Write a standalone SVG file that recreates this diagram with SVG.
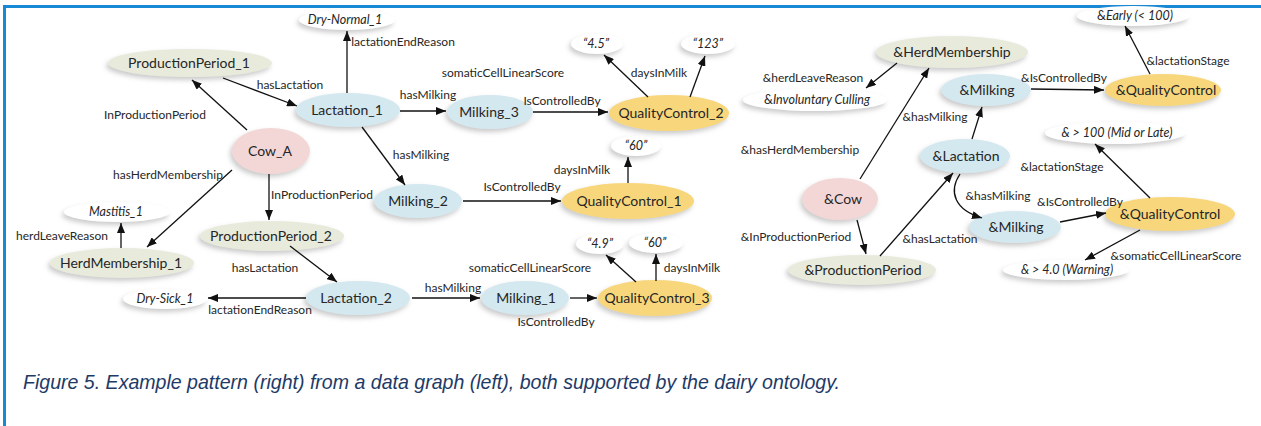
<svg xmlns="http://www.w3.org/2000/svg" width="1261" height="426" viewBox="0 0 1261 426">
<defs>
<style>
.t{font-family:Lato,"Liberation Sans",sans-serif;font-size:14px;fill:#262626;text-anchor:middle}
.v{font-family:Lato,"Liberation Sans",sans-serif;font-size:12.5px;font-style:italic;fill:#262626;text-anchor:middle}
.up{font-style:normal}
.l{font-family:Lato,"Liberation Sans",sans-serif;font-size:12px;fill:#262626;text-anchor:middle}
.cow{fill:#f3d7d7;filter:url(#sh)}
.per{fill:#e8ebdc;filter:url(#sh)}
.lac{fill:#d4e8f0;filter:url(#sh)}
.qc{fill:#f8d77c;filter:url(#sh)}
.val{fill:#fff;filter:url(#sh)}
#edges line,#edges path{stroke:#111;stroke-width:1.3;fill:none;marker-end:url(#ah)}
.frame{stroke:#1789d5;stroke-width:3}
.cap{font-family:"Liberation Sans",Arial,sans-serif;font-size:21px;font-style:italic;fill:#1e3a66}
</style>
<filter id="sh" x="-30%" y="-50%" width="160%" height="200%">
<feGaussianBlur in="SourceAlpha" stdDeviation="2.5" result="b"/>
<feOffset in="b" dx="-2" dy="3" result="o"/>
<feFlood flood-color="#8a8a8a" flood-opacity="0.45"/>
<feComposite in2="o" operator="in" result="s"/>
<feGaussianBlur in="SourceGraphic" stdDeviation="0.7" result="g"/>
<feMerge><feMergeNode in="s"/><feMergeNode in="g"/></feMerge>
</filter>
<marker id="ah" viewBox="0 0 10 8" refX="10" refY="4" markerWidth="10" markerHeight="8" markerUnits="userSpaceOnUse" orient="auto"><path d="M0,0 L10,4 L0,8 z" fill="#111"/></marker>
</defs>
<rect width="1261" height="426" fill="#fff"/>
<line class="frame" x1="3" y1="6.5" x2="1261" y2="6.5"/>
<line class="frame" x1="4.5" y1="5" x2="4.5" y2="426"/>

<!-- data graph -->
<g id="n_pp1"><ellipse class="per" cx="190" cy="63" rx="82" ry="14"/><text class="t" x="189" y="68">ProductionPeriod_1</text></g>
<g id="n_drynormal"><ellipse class="val" cx="347" cy="20" rx="48" ry="10"/><text class="v" x="345" y="24">Dry-Normal_1</text></g>
<g id="n_lac1"><ellipse class="lac" cx="348" cy="110" rx="52" ry="17"/><text class="t" x="347" y="115">Lactation_1</text></g>
<g id="n_milk3"><ellipse class="lac" cx="490" cy="112" rx="43" ry="17"/><text class="t" x="489" y="117">Milking_3</text></g>
<g id="n_qc2"><ellipse class="qc" cx="669" cy="113" rx="60" ry="18"/><text class="t" x="671" y="118">QualityControl_2</text></g>
<g id="n_v45"><ellipse class="val" cx="597" cy="44" rx="26" ry="10"/><text class="v" x="596" y="48">“4.5”</text></g>
<g id="n_v123"><ellipse class="val" cx="708" cy="44" rx="27" ry="10"/><text class="v" x="708" y="48">“123”</text></g>
<g id="n_cowa"><ellipse class="cow" cx="271" cy="151" rx="39" ry="23"/><text class="t" x="270" y="156">Cow_A</text></g>
<g id="n_milk2"><ellipse class="lac" cx="418" cy="201" rx="44" ry="17"/><text class="t" x="418" y="206">Milking_2</text></g>
<g id="n_qc1"><ellipse class="qc" cx="628" cy="201" rx="66" ry="18"/><text class="t" x="629" y="206">QualityControl_1</text></g>
<g id="n_v60a"><ellipse class="val" cx="636" cy="146" rx="25" ry="10"/><text class="v" x="636" y="150">“60”</text></g>
<g id="n_pp2"><ellipse class="per" cx="272" cy="236" rx="72" ry="15"/><text class="t" x="271" y="241">ProductionPeriod_2</text></g>
<g id="n_hm1"><ellipse class="per" cx="122" cy="263" rx="72" ry="15"/><text class="t" x="121" y="268">HerdMembership_1</text></g>
<g id="n_mastitis"><ellipse class="val" cx="117" cy="212" rx="53" ry="10"/><text class="v" x="116" y="216">Mastitis_1</text></g>
<g id="n_lac2"><ellipse class="lac" cx="358" cy="298" rx="52" ry="17"/><text class="t" x="356" y="303">Lactation_2</text></g>
<g id="n_drysick"><ellipse class="val" cx="165" cy="299" rx="42" ry="10"/><text class="v" x="165" y="303">Dry-Sick_1</text></g>
<g id="n_milk1"><ellipse class="lac" cx="525" cy="298" rx="44" ry="17"/><text class="t" x="526" y="303">Milking_1</text></g>
<g id="n_qc3"><ellipse class="qc" cx="655" cy="298" rx="57" ry="18"/><text class="t" x="657" y="303">QualityControl_3</text></g>
<g id="n_v49"><ellipse class="val" cx="600" cy="244" rx="24" ry="10"/><text class="v" x="600" y="248">“4.9”</text></g>
<g id="n_v60b"><ellipse class="val" cx="656" cy="243" rx="27" ry="10"/><text class="v" x="655" y="247">“60”</text></g>

<!-- pattern -->
<g id="p_hm"><ellipse class="per" cx="952" cy="52" rx="76" ry="16"/><text class="t" x="952" y="57">&amp;HerdMembership</text></g>
<g id="p_invol"><ellipse class="val" cx="815" cy="100" rx="72" ry="11"/><text class="v" x="817" y="104"><tspan class="up">&amp;</tspan>Involuntary Culling</text></g>
<g id="p_milka"><ellipse class="lac" cx="986" cy="90" rx="45" ry="16"/><text class="t" x="987" y="95">&amp;Milking</text></g>
<g id="p_qca"><ellipse class="qc" cx="1163" cy="90" rx="58" ry="16"/><text class="t" x="1166" y="95">&amp;QualityControl</text></g>
<g id="p_early"><ellipse class="val" cx="1133" cy="16" rx="56" ry="10"/><text class="v" x="1135" y="20"><tspan class="up">&amp;</tspan>Early (&lt; 100)</text></g>
<g id="p_lac"><ellipse class="lac" cx="965" cy="156" rx="45" ry="17"/><text class="t" x="966" y="161">&amp;Lactation</text></g>
<g id="p_mid"><ellipse class="val" cx="1115" cy="133" rx="70" ry="11"/><text class="v" x="1117" y="137">&amp; &gt; 100 (Mid or Late)</text></g>
<g id="p_cow"><ellipse class="cow" cx="840" cy="199" rx="38" ry="21"/><text class="t" x="843" y="204">&amp;Cow</text></g>
<g id="p_pp"><ellipse class="per" cx="862" cy="270" rx="74" ry="15"/><text class="t" x="863" y="275">&amp;ProductionPeriod</text></g>
<g id="p_milkb"><ellipse class="lac" cx="1015" cy="227" rx="46" ry="16"/><text class="t" x="1016" y="232">&amp;Milking</text></g>
<g id="p_qcb"><ellipse class="qc" cx="1170" cy="214" rx="65" ry="17"/><text class="t" x="1170" y="219">&amp;QualityControl</text></g>
<g id="p_warn"><ellipse class="val" cx="1066" cy="270" rx="63" ry="10"/><text class="v" x="1067" y="274">&amp; &gt; 4.0 (Warning)</text></g>

<g id="edges">
<line x1="247" y1="130" x2="192" y2="80"/>
<line x1="223" y1="78" x2="297" y2="106"/>
<line x1="347" y1="93" x2="347" y2="31"/>
<line x1="400" y1="111" x2="446" y2="111"/>
<line x1="533" y1="112" x2="608" y2="112"/>
<line x1="648" y1="97" x2="604" y2="55"/>
<line x1="690" y1="97" x2="705" y2="56"/>
<line x1="362" y1="127" x2="405" y2="185"/>
<line x1="463" y1="201" x2="561" y2="201"/>
<line x1="628" y1="183" x2="628" y2="157"/>
<line x1="232" y1="170" x2="147" y2="247"/>
<line x1="269" y1="174" x2="269" y2="220"/>
<line x1="121" y1="248" x2="121" y2="223"/>
<line x1="290" y1="246" x2="337" y2="282"/>
<line x1="306" y1="298" x2="208" y2="298"/>
<line x1="412" y1="298" x2="480" y2="298"/>
<line x1="570" y1="298" x2="597" y2="298"/>
<line x1="636" y1="282" x2="606" y2="255"/>
<line x1="656" y1="281" x2="656" y2="254"/>
<line x1="860" y1="179" x2="929" y2="68"/>
<line x1="897" y1="63" x2="866" y2="88"/>
<line x1="972" y1="139" x2="982" y2="107"/>
<line x1="1031" y1="89" x2="1104" y2="90"/>
<line x1="1150" y1="74" x2="1125" y2="26"/>
<line x1="857" y1="220" x2="866" y2="254"/>
<line x1="880" y1="256" x2="953" y2="173"/>
<path d="M960,174 C948,192 955,210 982,218"/>
<line x1="1060" y1="222" x2="1106" y2="213"/>
<line x1="1150" y1="198" x2="1095" y2="144"/>
<line x1="1140" y1="230" x2="1085" y2="260"/>

<text class="l" x="155" y="119">InProductionPeriod</text>
<text class="l" x="290" y="89">hasLactation</text>
<text class="l" x="403" y="46">lactationEndReason</text>
<text class="l" x="428" y="99">hasMilking</text>
<text class="l" x="562" y="105">IsControlledBy</text>
<text class="l" x="503" y="77">somaticCellLinearScore</text>
<text class="l" x="659" y="77">daysInMilk</text>
<text class="l" x="421" y="159">hasMilking</text>
<text class="l" x="522" y="191">IsControlledBy</text>
<text class="l" x="582" y="174">daysInMilk</text>
<text class="l" x="168" y="179">hasHerdMembership</text>
<text class="l" x="322" y="199">InProductionPeriod</text>
<text class="l" x="62" y="240">herdLeaveReason</text>
<text class="l" x="265" y="272">hasLactation</text>
<text class="l" x="260" y="314">lactationEndReason</text>
<text class="l" x="453" y="292">hasMilking</text>
<text class="l" x="556" y="326">IsControlledBy</text>
<text class="l" x="530" y="272">somaticCellLinearScore</text>
<text class="l" x="692" y="272">daysInMilk</text>
<text class="l" x="800" y="154">&amp;hasHerdMembership</text>
<text class="l" x="813" y="82">&amp;herdLeaveReason</text>
<text class="l" x="935" y="121">&amp;hasMilking</text>
<text class="l" x="1064" y="82">&amp;IsControlledBy</text>
<text class="l" x="1188" y="65">&amp;lactationStage</text>
<text class="l" x="796" y="241">&amp;InProductionPeriod</text>
<text class="l" x="940" y="243">&amp;hasLactation</text>
<text class="l" x="998" y="200">&amp;hasMilking</text>
<text class="l" x="1080" y="206">&amp;IsControlledBy</text>
<text class="l" x="1062" y="171">&amp;lactationStage</text>
<text class="l" x="1176" y="260">&amp;somaticCellLinearScore</text>
</g>

<text class="cap" x="23" y="389" textLength="817" lengthAdjust="spacingAndGlyphs">Figure 5. Example pattern (right) from a data graph (left), both supported by the dairy ontology.</text>
</svg>
